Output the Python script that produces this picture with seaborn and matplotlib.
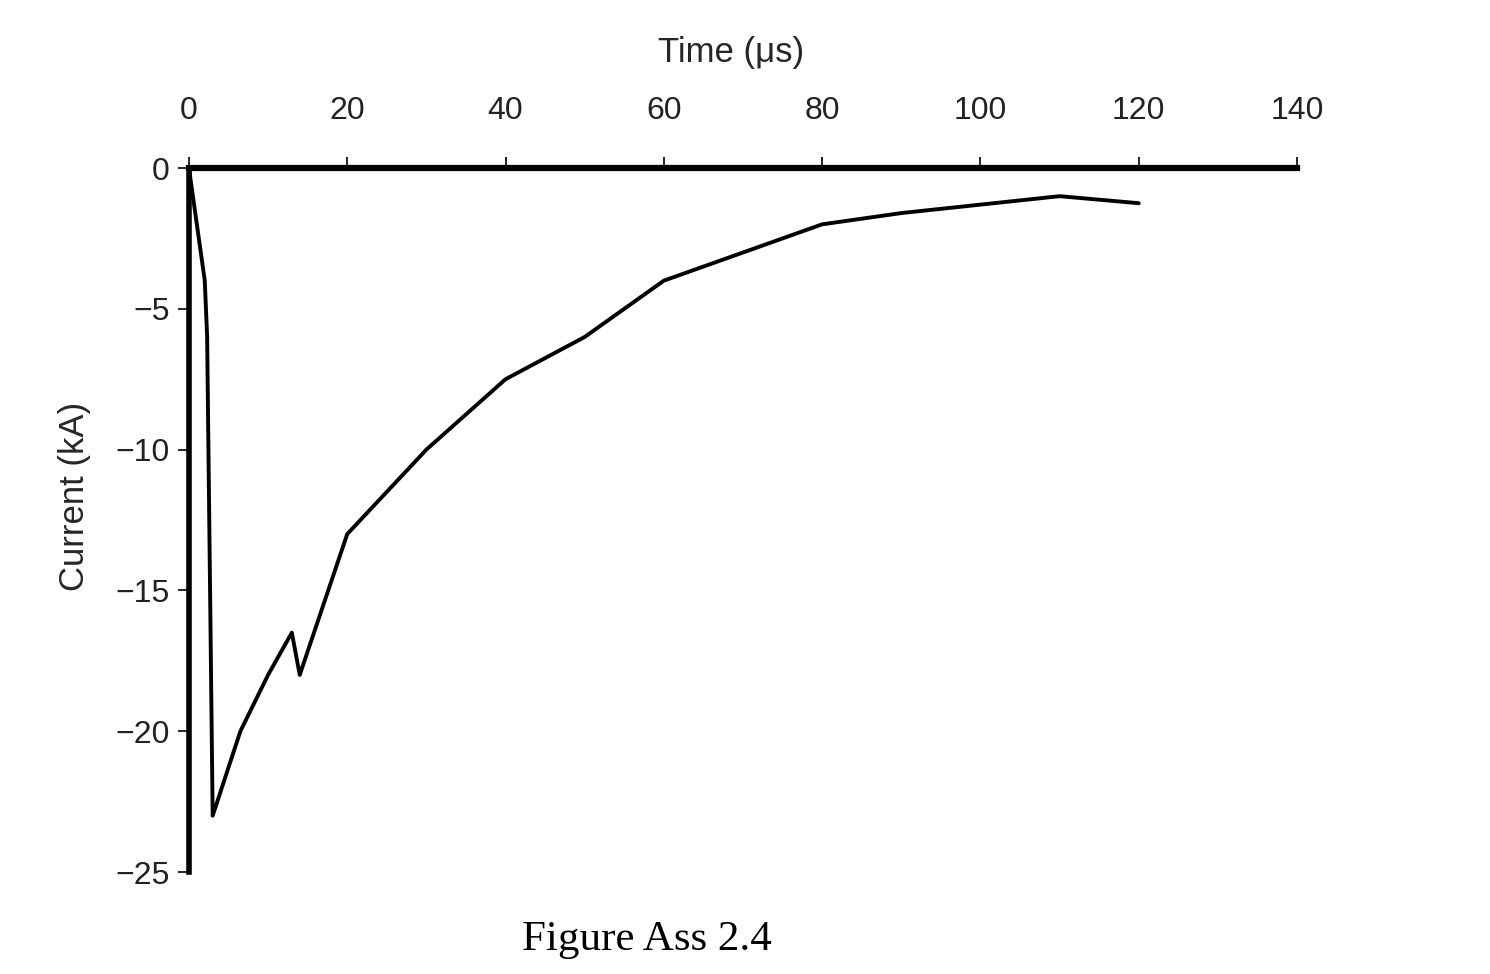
import matplotlib
matplotlib.use("Agg")
import matplotlib.pyplot as plt
import seaborn as sns
import pandas as pd

time_us = [0, 2.0, 2.3, 3.0, 6.5, 10, 13, 14, 20, 30, 40, 50, 60, 70, 80, 90, 100, 110, 120]
current_ka = [0, -4.0, -6.0, -23.0, -20.0, -18.0, -16.5, -18.0, -13.0, -10.0, -7.5, -6.0, -4.0, -3.0, -2.0, -1.6, -1.3, -1.0, -1.25]
x_ticks = [0, 20, 40, 60, 80, 100, 120, 140]
y_ticks = [0, -5, -10, -15, -20, -25]

sns.set_style("white")
plt.rcParams['font.family'] = ['Liberation Sans', 'DejaVu Sans']

df = pd.DataFrame({"t": time_us, "i": current_ka})

fig = plt.figure(figsize=(14.9, 9.74), dpi=100)
ax = fig.add_axes([0.1268, 0.1047, 0.7437, 0.7228])
sns.lineplot(data=df, x="t", y="i", ax=ax, color="black", linewidth=2.8, sort=False)

ax.set_xlim(0, 140)
ax.set_ylim(-25, 0)
ax.set_xticks(x_ticks)
ax.set_yticks(y_ticks)
ax.xaxis.tick_top()
ax.xaxis.set_label_position('top')
ax.set_xlabel("Time (μs)", fontsize=25)
ax.set_ylabel("Current (kA)", fontsize=25)
ax.xaxis.set_label_coords(0.489, 1.150)
ax.yaxis.set_label_coords(-0.088, 0.533)

for s in ["right", "bottom"]:
    ax.spines[s].set_visible(False)
ax.spines["top"].set_linewidth(4.5)
ax.spines["left"].set_linewidth(4.0)
ax.spines["top"].set_color("black")
ax.spines["left"].set_color("black")

ax.tick_params(axis="x", which="both", top=True, bottom=False, direction="out",
               length=8, width=1.2, labelsize=23, pad=22, colors="black")
ax.tick_params(axis="y", which="both", left=True, direction="out",
               length=8, width=1.2, labelsize=23, pad=6, colors="black")
for lab in ax.get_xticklabels():
    lab.set_color("#222222")
for lab in ax.get_yticklabels():
    lab.set_color("#222222")

fig.text(0.434, 0.035, "Figure Ass 2.4", fontsize=31, ha="center", va="center",
         family=["Liberation Serif", "DejaVu Serif"], color="black")

fig.savefig("out.png", dpi=100)
